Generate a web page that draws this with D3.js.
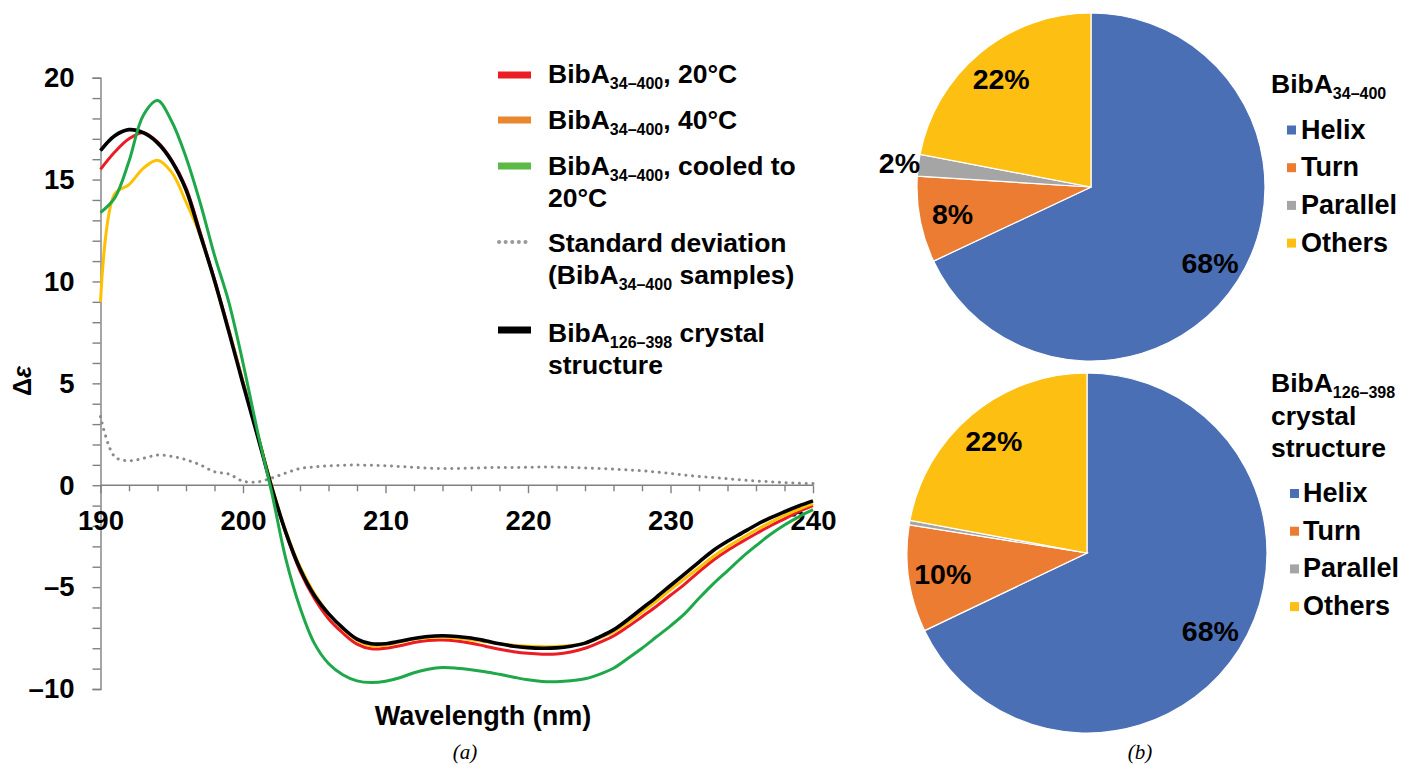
<!DOCTYPE html>
<html>
<head>
<meta charset="utf-8">
<script src="https://cdn.jsdelivr.net/npm/d3@7"></script>
<style>
  html, body { margin: 0; padding: 0; background: #fff; }
  svg { display: block; font-family: "Liberation Sans", Arial, Helvetica, sans-serif; }
</style>
</head>
<body>
<svg id="chart" width="1402" height="765"></svg>
<script>
// ---------- DATA ----------
const wavelengths = d3.range(190, 241, 1);

const bibA20 = [15.5, 16.35, 17.0, 17.3, 16.85, 15.95, 14.6, 12.4, 10.1, 7.65,
  5.07, 2.55, -0.05, -2.35, -4.2, -5.55, -6.55, -7.25, -7.8, -8.03,
  -8.0, -7.88, -7.72, -7.62, -7.6, -7.65, -7.75, -7.9, -8.05, -8.17,
  -8.25, -8.29, -8.28, -8.18, -8.0, -7.72, -7.4, -6.95, -6.45, -5.95,
  -5.4, -4.85, -4.25, -3.68, -3.2, -2.78, -2.38, -2.0, -1.65, -1.3, -1.0];

const bibA40 = [9.0, 14.3, 14.75, 15.55, 15.95, 15.35, 13.9, 12.25, 10.0, 7.6,
  5.05, 2.55, 0.0, -2.25, -4.0, -5.3, -6.3, -7.05, -7.6, -7.88,
  -7.85, -7.7, -7.55, -7.47, -7.45, -7.5, -7.58, -7.68, -7.78, -7.85,
  -7.9, -7.92, -7.92, -7.87, -7.75, -7.5, -7.2, -6.75, -6.22, -5.7,
  -5.12, -4.58, -4.05, -3.5, -3.02, -2.6, -2.2, -1.82, -1.48, -1.18, -0.9];

const bibACooled = [13.38, 14.1, 15.9, 18.15, 18.88, 17.85, 16.1, 13.85, 11.28, 9.0,
  6.0, 2.7, -0.3, -3.6, -6.0, -7.75, -8.75, -9.3, -9.6, -9.68,
  -9.62, -9.45, -9.2, -9.03, -8.95, -8.98, -9.05, -9.15, -9.28, -9.42,
  -9.55, -9.63, -9.64, -9.6, -9.5, -9.28, -8.98, -8.5, -8.0, -7.45,
  -6.9, -6.3, -5.55, -4.84, -4.2, -3.55, -2.97, -2.42, -1.95, -1.55, -1.2];

const stdDev = [3.37, 1.4, 1.2, 1.32, 1.48, 1.42, 1.25, 1.0, 0.66, 0.55,
  0.2, 0.16, 0.35, 0.6, 0.82, 0.9, 0.95, 0.98, 0.99, 0.98,
  0.96, 0.92, 0.88, 0.84, 0.82, 0.82, 0.84, 0.86, 0.87, 0.87,
  0.88, 0.9, 0.89, 0.87, 0.85, 0.82, 0.79, 0.75, 0.71, 0.65,
  0.58, 0.5, 0.43, 0.38, 0.32, 0.26, 0.21, 0.17, 0.13, 0.1, 0.08];

const crystal = [16.42, 17.15, 17.45, 17.3, 16.8, 15.9, 14.5, 12.3, 10.05, 7.55,
  4.97, 2.47, -0.07, -2.3, -4.1, -5.4, -6.3, -7.0, -7.55, -7.78,
  -7.78, -7.66, -7.52, -7.42, -7.39, -7.42, -7.5, -7.63, -7.78, -7.9,
  -7.97, -8.0, -7.98, -7.9, -7.75, -7.45, -7.1, -6.6, -6.05, -5.5,
  -4.92, -4.35, -3.77, -3.2, -2.75, -2.35, -1.95, -1.6, -1.3, -1.02, -0.77];

const yTickValues = d3.range(-10, 21, 1);
const yLabelValues = [-10, -5, 0, 5, 10, 15, 20];
const xTickValues = d3.range(190, 241, 2);
const xLabelValues = [190, 200, 210, 220, 230, 240];

const pieCategories = ["Helix", "Turn", "Parallel", "Others"];
const pieValuesFull = [68, 8, 2, 22];        // BibA34–400
const pieValuesCrystal = [67.9, 9.6, 0.4, 22.1]; // BibA126–398 crystal structure
const pieColors = ["#4a6fb5", "#eb7c31", "#a5a5a5", "#fdbf12"];

// ---------- SETUP ----------
const svg = d3.select("#chart");
const FONT = '"Liberation Sans", Arial, Helvetica, sans-serif';

const x = d3.scaleLinear().domain([190, 240]).range([100.5, 813]);
const y = d3.scaleLinear().domain([-10, 20]).range([689, 77.7]);

const axisColor = "#808080";

// Y axis
const yAxis = svg.append("g")
  .attr("transform", `translate(${x(190)},0)`)
  .call(d3.axisLeft(y).tickValues(yTickValues).tickSize(8).tickPadding(18)
    .tickFormat(v => yLabelValues.includes(v) ? (v < 0 ? "\u2013" + Math.abs(v) : String(v)) : ""));
yAxis.select(".domain").attr("stroke", axisColor).attr("stroke-width", 1.4);
yAxis.selectAll(".tick line").attr("stroke", axisColor).attr("stroke-width", 1.4);
yAxis.selectAll(".tick text").attr("font-family", FONT).attr("font-weight", "bold")
  .attr("font-size", 27.5).attr("fill", "#000");

// X axis at y=0
const xAxis = svg.append("g")
  .attr("transform", `translate(0,${y(0)})`)
  .call(d3.axisBottom(x).tickValues(xTickValues).tickSize(8).tickPadding(17)
    .tickFormat(v => xLabelValues.includes(v) ? String(v) : ""));
xAxis.select(".domain").attr("stroke", axisColor).attr("stroke-width", 1.4)
  .attr("d", `M${x(190)},0H${x(240)}`);
xAxis.selectAll(".tick line").attr("stroke", axisColor).attr("stroke-width", 1.4)
  .attr("y2", d => xLabelValues.includes(d) ? 8 : 6);
xAxis.selectAll(".tick text").attr("font-family", FONT).attr("font-weight", "bold")
  .attr("font-size", 27.5).attr("fill", "#000");

// Axis titles
svg.append("text")
  .attr("x", 483).attr("y", 725)
  .attr("text-anchor", "middle")
  .attr("font-family", FONT).attr("font-weight", "bold").attr("font-size", 27)
  .text("Wavelength (nm)");

const yt = svg.append("text")
  .attr("transform", "translate(31,381) rotate(-90)")
  .attr("text-anchor", "middle")
  .attr("font-family", FONT).attr("font-weight", "bold").attr("font-size", 25);
yt.append("tspan").text("\u0394");
yt.append("tspan").attr("font-style", "italic").text("\u03B5");

// Lines
const line = vals => d3.line()
  .x((d, i) => x(wavelengths[i]))
  .y(d => y(d))
  .curve(d3.curveCatmullRom.alpha(0.5))(vals);

svg.append("path").attr("d", line(stdDev)).attr("fill", "none")
  .attr("stroke", "#8a8a8a").attr("stroke-width", 3)
  .attr("stroke-linecap", "round").attr("stroke-dasharray", "0.1,6.6");
svg.append("path").attr("d", line(bibA20)).attr("fill", "none")
  .attr("stroke", "#ec1c24").attr("stroke-width", 3);
svg.append("path").attr("d", line(bibA40)).attr("fill", "none")
  .attr("stroke", "#ffc000").attr("stroke-width", 3);
svg.append("path").attr("d", line(crystal)).attr("fill", "none")
  .attr("stroke", "#000").attr("stroke-width", 3.6);
svg.append("path").attr("d", line(bibACooled)).attr("fill", "none")
  .attr("stroke", "#1ea84a").attr("stroke-width", 3);

// Left legend
const legendItems = [
  { color: "#ec1c24", dash: null, y: 75, lines: [[["BibA", ""], ["34\u2013400", "sub"], [", 20\u00B0C", ""]]], base: 83 },
  { color: "#e8872e", dash: null, y: 120, lines: [[["BibA", ""], ["34\u2013400", "sub"], [", 40\u00B0C", ""]]], base: 129 },
  { color: "#5cb946", dash: null, y: 166, lines: [[["BibA", ""], ["34\u2013400", "sub"], [", cooled to", ""]], [["20\u00B0C", ""]]], base: 175 },
  { color: "#9a9a9a", dash: "0.1,6.5", y: 242, lines: [[["Standard deviation", ""]], [["(BibA", ""], ["34\u2013400", "sub"], [" samples)", ""]]], base: 252 },
  { color: "#000", dash: null, y: 330, lines: [[["BibA", ""], ["126\u2013398", "sub"], [" crystal", ""]], [["structure", ""]]], base: 342 }
];

function richText(g, xPos, yPos, parts, size, subSize) {
  const t = g.append("text").attr("x", xPos).attr("y", yPos)
    .attr("font-family", FONT).attr("font-weight", "bold").attr("font-size", size);
  let shifted = false;
  parts.forEach(([s, kind]) => {
    const ts = t.append("tspan").text(s);
    if (kind === "sub") {
      ts.attr("font-size", subSize).attr("dy", 6);
      shifted = true;
    } else if (shifted) {
      ts.attr("dy", -6);
      shifted = false;
    }
  });
  return t;
}

const lg = svg.append("g");
legendItems.forEach(item => {
  if (item.dash) {
    lg.append("line").attr("x1", 499).attr("x2", 530).attr("y1", item.y).attr("y2", item.y)
      .attr("stroke", item.color).attr("stroke-width", 4).attr("stroke-linecap", "round")
      .attr("stroke-dasharray", item.dash);
  } else {
    lg.append("line").attr("x1", 498).attr("x2", 531).attr("y1", item.y).attr("y2", item.y)
      .attr("stroke", item.color).attr("stroke-width", 7);
  }
  item.lines.forEach((parts, i) => {
    richText(lg, 548, item.base + i * 31.5, parts, 26.5, 16);
  });
});

// Caption labels
svg.append("text").attr("x", 465).attr("y", 759).attr("text-anchor", "middle")
  .attr("font-family", '"Liberation Serif", "Times New Roman", serif').attr("font-style", "italic")
  .attr("font-size", 21).text("(a)");
svg.append("text").attr("x", 1140).attr("y", 759).attr("text-anchor", "middle")
  .attr("font-family", '"Liberation Serif", "Times New Roman", serif').attr("font-style", "italic")
  .attr("font-size", 21).text("(b)");

// ---------- PIES ----------
const pie = d3.pie().sort(null).value(d => d);

function drawPie(values, cx, cy, r, labelFrac) {
  const g = svg.append("g").attr("transform", `translate(${cx},${cy})`);
  const arcs = pie(values);
  const arc = d3.arc().innerRadius(0).outerRadius(r);
  g.selectAll("path").data(arcs).join("path")
    .attr("d", arc)
    .attr("fill", (d, i) => pieColors[i])
    .attr("stroke", "#fff").attr("stroke-width", 1.2);
  arcs.forEach((a, i) => {
    const pct = Math.round(a.data);
    if (pct < 1) return;
    const mid = (a.startAngle + a.endAngle) / 2;
    const small = (a.endAngle - a.startAngle) < 0.2;
    const rr = small ? r * 1.11 : r * labelFrac;
    g.append("text")
      .attr("x", Math.sin(mid) * rr)
      .attr("y", -Math.cos(mid) * rr)
      .attr("dy", "0.36em")
      .attr("text-anchor", "middle")
      .attr("font-family", FONT).attr("font-weight", "bold").attr("font-size", 28.5)
      .text(pct + "%");
  });
}

drawPie(pieValuesFull, 1091, 187, 174, 0.81);
drawPie(pieValuesCrystal, 1087, 553, 180, 0.81);

// Pie legends
function pieLegend(titleLines, titleBase, itemBase, sqX, txtX) {
  const g = svg.append("g");
  titleLines.forEach((parts, i) => {
    richText(g, 1271, titleBase + i * 32.5, parts, 26.5, 16);
  });
  pieCategories.forEach((c, i) => {
    const b = itemBase + i * 37.7;
    g.append("rect").attr("x", sqX).attr("y", b - 13).attr("width", 9).attr("height", 9)
      .attr("fill", pieColors[i]);
    g.append("text").attr("x", txtX).attr("y", b)
      .attr("font-family", FONT).attr("font-weight", "bold").attr("font-size", 27)
      .text(c);
  });
}

pieLegend([[["BibA", ""], ["34\u2013400", "sub"]]], 93, 138.5, 1287, 1301);
pieLegend([[["BibA", ""], ["126\u2013398", "sub"]], [["crystal", ""]], [["structure", ""]]], 392, 502, 1290, 1303);
</script>
</body>
</html>
